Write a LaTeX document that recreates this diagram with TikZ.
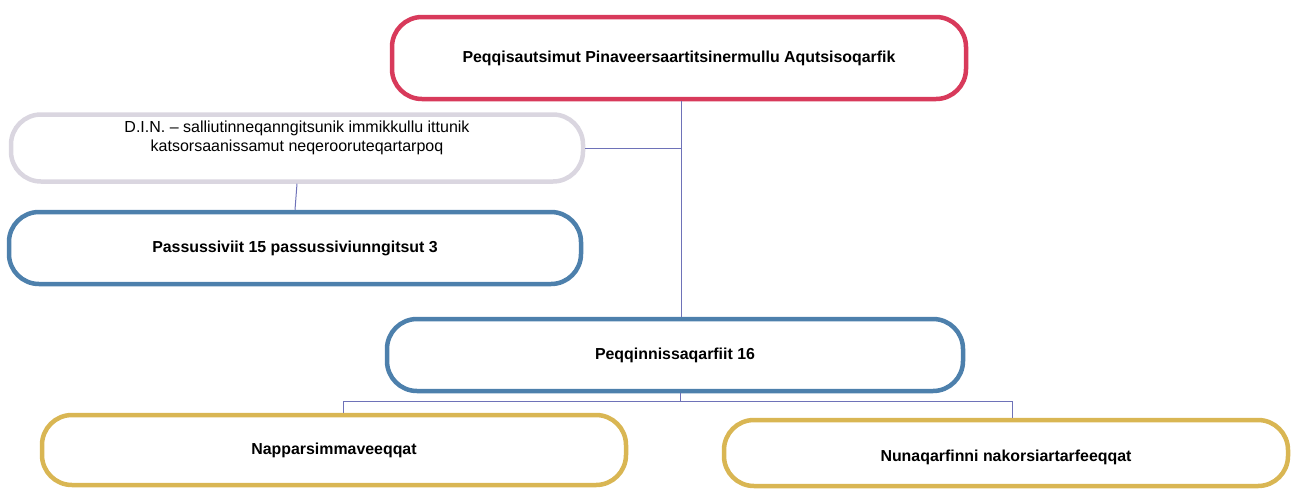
\documentclass[tikz,border=0pt]{standalone}
\usepackage{fontspec}
\setmainfont{Liberation Sans}
\usetikzlibrary{calc}
\definecolor{cred}{HTML}{D83A5B}
\definecolor{cblue}{HTML}{4D80AC}
\definecolor{cgray}{HTML}{DAD6E0}
\definecolor{cyel}{HTML}{D9B653}
\definecolor{cline}{HTML}{6E72B8}
\tikzset{
  box/.style={draw, line width=4.5pt, rounded corners=30pt, align=center, inner sep=0pt,
    font=\bfseries\fontsize{15.9}{19}\selectfont},
  conn/.style={draw=cline, line width=1pt},
}
\begin{document}
\begin{tikzpicture}[x=1pt,y=-1pt]
\useasboundingbox (0,0) rectangle (1298,488);
\node[box, draw=cred, minimum width=574pt, minimum height=82pt] (top) at (679,58) {Peqqisautsimut Pinaveersaartitsinermullu Aqutsisoqarfik};
\node[box, draw=cgray, minimum width=572pt, minimum height=67pt, font=\fontsize{16}{19}\selectfont] (din) at (297,148) {\raisebox{5pt}[0pt][0pt]{\begin{tabular}{@{}c@{}}D.I.N. -- salliutinneqanngitsunik immikkullu ittunik\\katsorsaanissamut neqerooruteqartarpoq\end{tabular}}};
\node[box, draw=cblue, minimum width=572pt, minimum height=72pt] (pas) at (295,248) {Passussiviit 15 passussiviunngitsut 3};
\node[box, draw=cblue, minimum width=576pt, minimum height=72pt] (pq) at (675,355) {Peqqinnissaqarfiit 16};
\node[box, draw=cyel, minimum width=584pt, minimum height=70pt] (nap) at (334,450) {Napparsimmaveeqqat};
\node[box, draw=cyel, minimum width=564pt, minimum height=66pt] (nun) at (1006,453) {\raisebox{-8pt}[0pt][0pt]{Nunaqarfinni nakorsiartarfeeqqat}};
\coordinate (j) at ($(pq.south)+(0,8)$);
\path[conn] ([xshift=2pt]top.south) -- ([xshift=2pt]top.south |- pq.north);
\path[conn] (din.east) -- ([xshift=2pt]din.east -| top.south);
\path[conn] (din.south) -- (pas.north);
\path[conn] ([xshift=5pt]pq.south) -- ([xshift=5pt]j);
\path[conn] ([xshift=9pt]nap.north) |- (j) -| ([xshift=6pt]nun.north);
\end{tikzpicture}
\end{document}
